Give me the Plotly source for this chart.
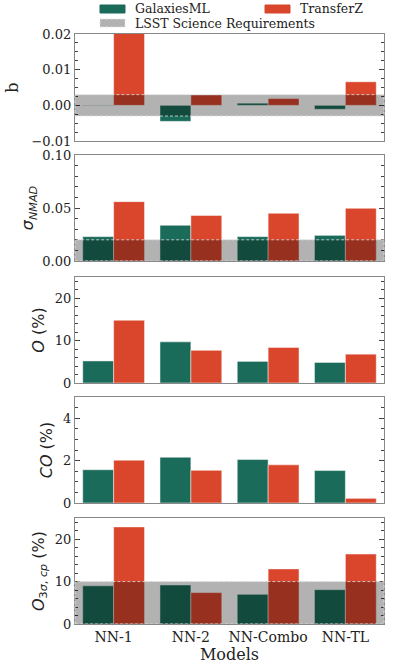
import plotly.graph_objects as go
from plotly.subplots import make_subplots

models = ["NN-1", "NN-2", "NN-Combo", "NN-TL"]

bias_gml = [0.0001, -0.0045, 0.0006, -0.0011]
bias_tz = [0.0215, 0.0029, 0.0019, 0.0066]
nmad_gml = [0.023, 0.0337, 0.023, 0.0242]
nmad_tz = [0.056, 0.043, 0.045, 0.0497]
outlier_gml = [5.2, 9.7, 5.1, 4.85]
outlier_tz = [14.8, 7.7, 8.4, 6.8]
catastrophic_gml = [1.57, 2.16, 2.05, 1.53]
catastrophic_tz = [2.02, 1.54, 1.8, 0.22]
o3s_gml = [9.0, 9.2, 7.0, 8.1]
o3s_tz = [22.9, 7.4, 13.0, 16.5]

# LSST requirement bands (lo, hi) per panel; None where no requirement shown
lsst_bias = (-0.003, 0.003)
lsst_nmad = (0.0, 0.02)
lsst_o3s = (0.0, 10.0)

GREEN = "#1b6b5a"
RED = "#d9462c"
BAND = "rgba(0,0,0,0.3)"
BAND_EDGE = "rgba(225,225,225,0.8)"
W, H = 397, 671

panels = [
    dict(g=bias_gml, t=bias_tz, band=lsst_bias, rng=[-0.01, 0.02], dtick=0.01,
         minor=0.0025, fmt=".2f", title="b", tfont="DejaVu Serif", standoff=8),
    dict(g=nmad_gml, t=nmad_tz, band=lsst_nmad, rng=[0, 0.1], dtick=0.05,
         minor=0.01, fmt=".2f", title="<i>σ</i><sub><i>NMAD</i></sub>",
         tfont="DejaVu Sans", standoff=4),
    dict(g=outlier_gml, t=outlier_tz, band=None, rng=[0, 25], dtick=10,
         minor=2, fmt="d", title="<i>O</i> (%)", tfont="DejaVu Sans", standoff=6),
    dict(g=catastrophic_gml, t=catastrophic_tz, band=None, rng=[0, 5], dtick=2,
         minor=0.5, fmt="d", title="<i>CO</i> (%)", tfont="DejaVu Sans", standoff=6),
    dict(g=o3s_gml, t=o3s_tz, band=lsst_o3s, rng=[0, 25], dtick=10,
         minor=2, fmt="d", title="<i>O</i><sub>3<i>σ</i>, <i>cp</i></sub> (%)",
         tfont="DejaVu Sans", standoff=6),
]

# pixel extents (top, bottom) of each panel
rows_px = [(34, 141), (155, 261), (277, 383), (397, 503), (518, 624)]
x_px = (75, 384)

fig = make_subplots(rows=5, cols=1, shared_xaxes=True)

bar_edge = dict(width=0.8, color="rgba(255,255,255,0.6)")
for i, p in enumerate(panels):
    r = i + 1
    fig.add_trace(go.Bar(x=models, y=p["g"], marker=dict(color=GREEN, line=bar_edge),
                         showlegend=False, name="GalaxiesML"), row=r, col=1)
    fig.add_trace(go.Bar(x=models, y=p["t"], marker=dict(color=RED, line=bar_edge),
                         showlegend=False, name="TransferZ"), row=r, col=1)
    if p["band"] is not None:
        lo, hi = p["band"]
        yref = "y" if r == 1 else f"y{r}"
        xref = "x domain" if r == 1 else f"x{r} domain"
        fig.add_shape(type="rect", xref=xref, yref=yref, x0=0, x1=1, y0=lo, y1=hi,
                      fillcolor=BAND, layer="above",
                      line=dict(color=BAND_EDGE, width=1, dash="3px,2px"))
    top, bot = rows_px[i]
    fig.update_yaxes(
        row=r, col=1, range=p["rng"], dtick=p["dtick"], tickformat=p["fmt"],
        domain=[1 - bot / H, 1 - top / H], automargin=False,
        ticks="inside", ticklen=5, tickcolor="#444", mirror="allticks",
        showline=True, linecolor="#888", linewidth=1.2, showgrid=False, zeroline=False,
        minor=dict(ticks="inside", ticklen=3, dtick=p["minor"], tickcolor="#444", showgrid=False),
        tickfont=dict(family="DejaVu Serif", size=13, color="#222"),
        title=dict(text=p["title"], font=dict(family=p["tfont"], size=16, color="#222"),
                   standoff=p["standoff"]),
    )
    fig.update_xaxes(
        row=r, col=1, range=[-0.5, 3.5], domain=[x_px[0] / W, x_px[1] / W],
        automargin=False,
        showline=True, linecolor="#888", linewidth=1.2, mirror=True,
        showgrid=False, zeroline=False, ticks="",
        tickfont=dict(family="DejaVu Serif", size=14, color="#222"),
    )

fig.update_xaxes(row=5, col=1, showticklabels=True,
                 title=dict(text="Models", font=dict(family="DejaVu Serif", size=16, color="#222"),
                            standoff=2))

# legend drawn by hand to mimic the two-column layout
legend_items = [
    (100, 9, GREEN, "GalaxiesML", None),
    (265, 9, RED, "TransferZ", None),
    (100, 23, BAND, "LSST Science Requirements", "3px,2px"),
]
for px, py, col, label, dash in legend_items:
    fig.add_shape(type="rect", xref="paper", yref="paper",
                  x0=px / W, x1=(px + 25) / W, y0=1 - (py + 4) / H, y1=1 - (py - 4) / H,
                  fillcolor=col,
                  line=dict(color=BAND_EDGE if dash else col, width=1, dash=dash or "solid"))
    fig.add_annotation(xref="paper", yref="paper", x=(px + 34) / W, y=1 - py / H,
                       xanchor="left", yanchor="middle", showarrow=False, text=label,
                       borderpad=0, font=dict(family="DejaVu Serif", size=12.5, color="#222"))

fig.update_layout(
    width=W, height=H, margin=dict(l=0, r=0, t=0, b=0),
    barmode="group", bargap=0.2, bargroupgap=0,
    plot_bgcolor="white", paper_bgcolor="white",
    showlegend=False,
)

# drop the browser's default page margin so the figure sits at the window corner
fig.write_html("out.html", config={"displayModeBar": False},
               post_script="document.body.style.margin='0px';")
